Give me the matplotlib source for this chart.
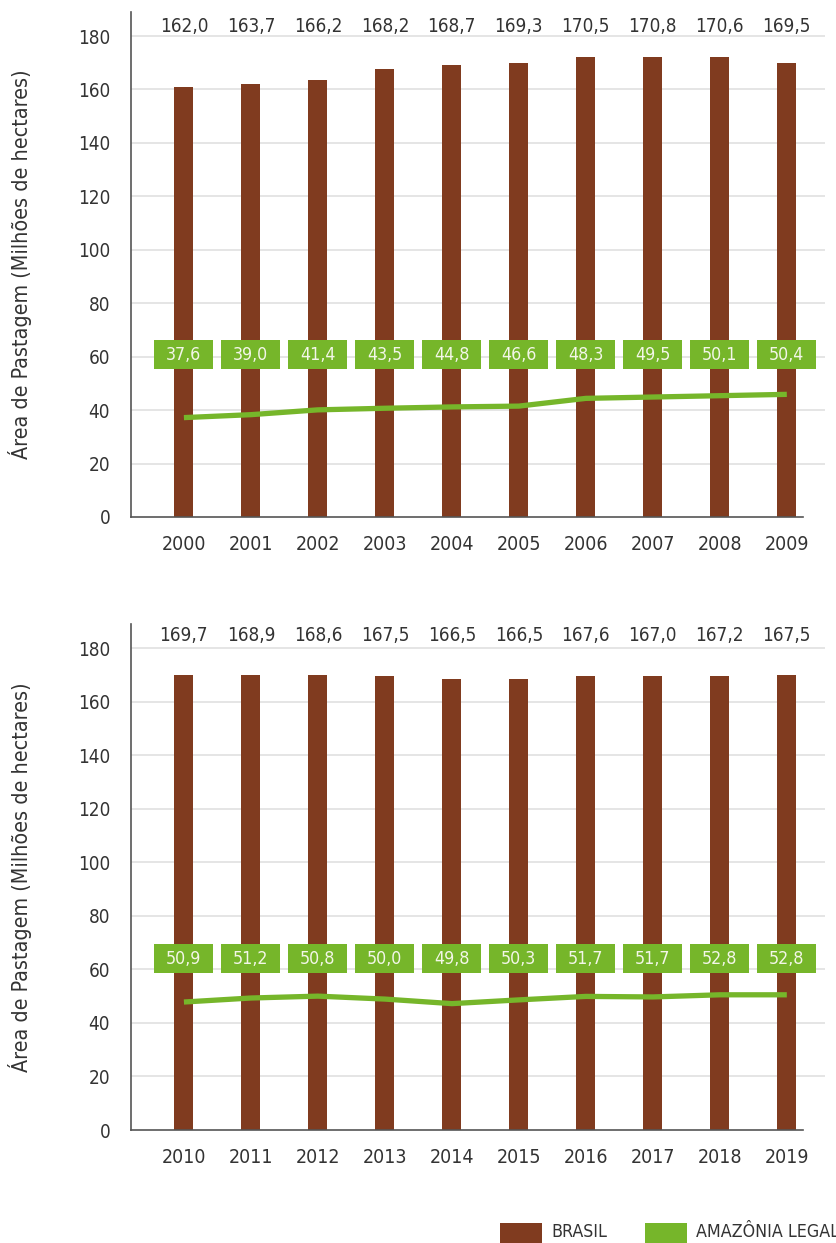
import numpy as np
import matplotlib
matplotlib.use("Agg")
import matplotlib.pyplot as plt
from matplotlib import font_manager
from matplotlib.patches import Rectangle

# dados
anos_1 = [2000, 2001, 2002, 2003, 2004, 2005, 2006, 2007, 2008, 2009]
brasil_1 = [161.1, 162.2, 163.4, 167.5, 169.0, 170.1, 172.0, 172.0, 172.0, 170.1]
brasil_rot_1 = [162.0, 163.7, 166.2, 168.2, 168.7, 169.3, 170.5, 170.8, 170.6, 169.5]
amazonia_1 = [37.2, 38.3, 40.1, 40.7, 41.2, 41.5, 44.4, 44.9, 45.4, 45.9]
amazonia_rot_1 = [37.6, 39.0, 41.4, 43.5, 44.8, 46.6, 48.3, 49.5, 50.1, 50.4]

anos_2 = [2010, 2011, 2012, 2013, 2014, 2015, 2016, 2017, 2018, 2019]
brasil_2 = [169.8, 169.8, 169.8, 169.4, 168.3, 168.3, 169.4, 169.4, 169.4, 169.8]
brasil_rot_2 = [169.7, 168.9, 168.6, 167.5, 166.5, 166.5, 167.6, 167.0, 167.2, 167.5]
amazonia_2 = [47.8, 49.3, 50.0, 48.9, 47.2, 48.6, 49.9, 49.7, 50.5, 50.5]
amazonia_rot_2 = [50.9, 51.2, 50.8, 50.0, 49.8, 50.3, 51.7, 51.7, 52.8, 52.8]

BROWN = "#803b1f"
GREEN = "#76b62a"
TEXT = "#333333"

# procura uma fonte estreita (o original usa uma condensada)
narrow = None
for f in font_manager.fontManager.ttflist:
    if f.style != "normal" or f.weight not in (400, "normal", "regular"):
        continue
    if "Narrow" in f.name or "Condensed" in f.name or f.stretch in ("condensed", "semi-condensed"):
        narrow = f
        break

if narrow is not None:
    plt.rcParams["font.family"] = [narrow.name, "DejaVu Sans"]
    plt.rcParams["font.stretch"] = narrow.stretch
    SCALE = 0.88
else:
    plt.rcParams["font.family"] = ["Roboto", "DejaVu Sans"]
    SCALE = 0.8


def fmt(v):
    return f"{v:.1f}".replace(".", ",")


def draw_panel(ax, anos, brasil, brasil_rot, amazonia, amazonia_rot, box_y, top_y):
    x = np.arange(len(anos))
    ax.bar(x, brasil, width=0.284, color=BROWN, zorder=2)
    ax.plot(x, amazonia, color=GREEN, lw=3.8, solid_capstyle="butt", zorder=3)

    for i in x:
        ax.text(i, top_y, fmt(brasil_rot[i]), ha="center", va="center",
                fontsize=15.5 * SCALE, color=TEXT)
        ax.add_patch(Rectangle((i - 0.44, box_y - 5.4), 0.88, 10.8,
                               facecolor=GREEN, edgecolor="none", zorder=4))
        ax.text(i, box_y, fmt(amazonia_rot[i]), ha="center", va="center",
                fontsize=14.5 * SCALE, color="#f3f6e8", zorder=5)

    ax.set_xlim(-0.79, 9.57)
    ax.set_ylim(0, 189)
    ax.set_yticks(range(0, 181, 20))
    ax.set_xticks(x, [str(a) for a in anos])
    ax.grid(axis="y", color="#dedede", lw=1.1)
    ax.set_axisbelow(True)
    ax.yaxis.get_gridlines()[0].set_visible(False)

    for s in ["top", "right"]:
        ax.spines[s].set_visible(False)
    for s in ["left", "bottom"]:
        ax.spines[s].set_color("#555555")
        ax.spines[s].set_linewidth(1.2)
    ax.spines["bottom"].set_bounds(-0.79, 9.24)

    ax.tick_params(axis="y", length=0, labelsize=15.5 * SCALE, colors=TEXT, pad=15)
    ax.tick_params(axis="x", length=0, labelsize=16 * SCALE, colors=TEXT, pad=13)
    ax.set_ylabel("Área de Pastagem (Milhões de hectares)", fontsize=17.5 * SCALE,
                  color=TEXT, va="center")
    ax.yaxis.set_label_coords(-0.16, 0.5)


fig = plt.figure(figsize=(8.37, 12.43), dpi=100)
W, H = 837, 1243

ax1 = fig.add_axes([131 / W, 1 - 517 / H, 694 / W, 505 / H])
ax2 = fig.add_axes([131 / W, 1 - 1130 / H, 694 / W, 506 / H])

draw_panel(ax1, anos_1, brasil_1, brasil_rot_1, amazonia_1, amazonia_rot_1, 60.7, 183.4)
draw_panel(ax2, anos_2, brasil_2, brasil_rot_2, amazonia_2, amazonia_rot_2, 64.0, 184.6)

# legenda
fig.patches.append(Rectangle((500 / W, 1 - 1243 / H), 42 / W, 20 / H,
                             facecolor=BROWN, transform=fig.transFigure, figure=fig))
fig.text(551 / W, 1 - 1232 / H, "BRASIL", fontsize=14.5 * SCALE, color=TEXT, va="center")
fig.patches.append(Rectangle((645 / W, 1 - 1243 / H), 42 / W, 20 / H,
                             facecolor=GREEN, transform=fig.transFigure, figure=fig))
fig.text(696 / W, 1 - 1232 / H, "AMAZÔNIA LEGAL", fontsize=14.5 * SCALE, color=TEXT, va="center")

fig.savefig("out.png", dpi=100)
